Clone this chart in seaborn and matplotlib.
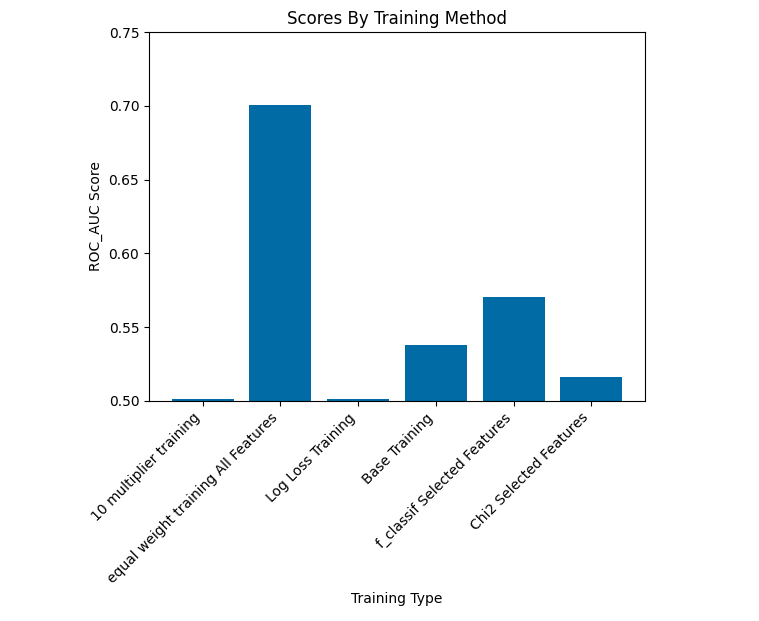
import matplotlib
matplotlib.use("Agg")
import matplotlib.pyplot as plt
import seaborn as sns
import pandas as pd

methods = ["10 multiplier training", "equal weight training All Features",
           "Log Loss Training", "Base Training",
           "f_classif Selected Features", "Chi2 Selected Features"]
scores = [0.5014, 0.7005, 0.5014, 0.538, 0.5707, 0.5165]

df = pd.DataFrame({"Training Type": methods, "ROC_AUC Score": scores})

fig = plt.figure(figsize=(7.59, 6.21), dpi=100)
ax = fig.add_axes([149/759, 1-401/621, (645-149)/759, (401-32)/621])
sns.barplot(data=df, x="Training Type", y="ROC_AUC Score", color="#006BA4",
            saturation=1, width=0.8, ax=ax, errorbar=None)
ax.set_xlim(-0.69, 5.69)
ax.set_ylim(0.5, 0.75)
ax.set_yticks([0.50, 0.55, 0.60, 0.65, 0.70, 0.75])
ax.set_yticklabels(["0.50", "0.55", "0.60", "0.65", "0.70", "0.75"])
ax.set_title("Scores By Training Method")
ax.set_xlabel("Training Type")
ax.set_ylabel("ROC_AUC Score")
plt.setp(ax.get_xticklabels(), rotation=45, ha="right", rotation_mode="default")
fig.savefig("out.png", dpi=100)
